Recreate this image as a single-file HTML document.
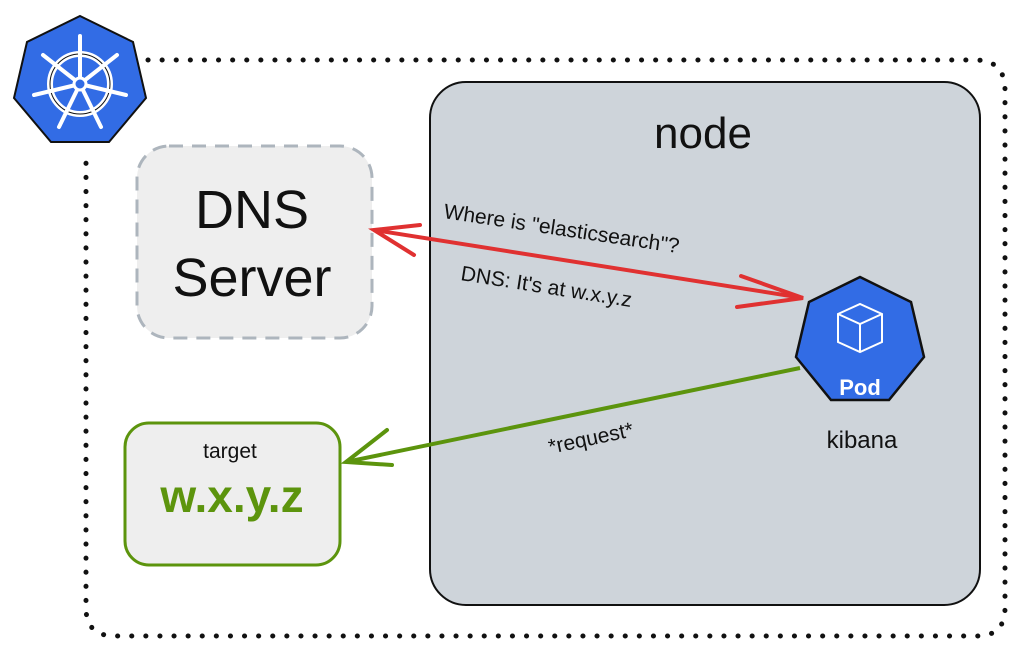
<!DOCTYPE html>
<html><head><meta charset="utf-8"><style>
html,body{margin:0;padding:0;background:#fff;}
svg{display:block}
text{font-family:"Liberation Sans",sans-serif;}
</style></head><body>
<svg width="1020" height="654" viewBox="0 0 1020 654" xmlns="http://www.w3.org/2000/svg">
<path d="M148,60 L975,60 Q1005,60 1005,90 L1005,608 Q1005,636 977,636 L115,636 Q86,636 86,608 L86,152" fill="none" stroke="#111" stroke-width="5" stroke-dasharray="0.1 14" stroke-linecap="round"/>
<g transform="translate(80,84)">
<polygon points="0,-68 53,-42 66,14 29,58 -29,58 -66,14 -53,-42" fill="#326ce5" stroke="#111" stroke-width="2"/>
<circle r="30" fill="none" stroke="#fff" stroke-width="6"/>
<circle r="30" fill="none" stroke="#111" stroke-width="1"/>
<g stroke="#fff" stroke-width="4" stroke-linecap="round">
<line x1="0" y1="0" x2="0" y2="-48"/><line x1="0" y1="0" x2="37" y2="-29"/><line x1="0" y1="0" x2="46" y2="11"/>
<line x1="0" y1="0" x2="21" y2="43"/><line x1="0" y1="0" x2="-21" y2="43"/><line x1="0" y1="0" x2="-46" y2="11"/><line x1="0" y1="0" x2="-37" y2="-29"/>
</g>
<circle r="6" fill="#326ce5" stroke="#fff" stroke-width="3"/>
</g>
<rect x="430" y="82" width="550" height="523" rx="36" fill="#ced4da" stroke="#111" stroke-width="2"/>
<text x="703" y="148" font-size="44" text-anchor="middle" fill="#111">node</text>
<rect x="137" y="146" width="235" height="192" rx="32" fill="#eeeeee" stroke="#adb5bd" stroke-width="3" stroke-dasharray="14 9"/>
<text x="252" y="228" font-size="54" text-anchor="middle" fill="#111">DNS</text>
<text x="252" y="296" font-size="54" text-anchor="middle" fill="#111">Server</text>
<line x1="374" y1="230" x2="803" y2="298" stroke="#e03131" stroke-width="4"/>
<polyline points="420,225 374,230 414,255" fill="none" stroke="#e03131" stroke-width="4" stroke-linecap="round"/>
<polyline points="741,276 803,298 737,307" fill="none" stroke="#e03131" stroke-width="4" stroke-linecap="round"/>
<text transform="translate(443,218) rotate(8.5)" font-size="21" fill="#111">Where is "elasticsearch"?</text>
<text transform="translate(460,280) rotate(9)" font-size="21" fill="#111">DNS: It's at w.x.y.z</text>
<g transform="translate(860,342)">
<polygon points="0,-65 51,-40 64,15 29,58 -29,58 -64,15 -51,-40" fill="#326ce5" stroke="#111" stroke-width="2.5"/>
<g stroke="#fff" stroke-width="2" fill="none">
<polygon points="-22,-28 0,-38 22,-28 22,0 0,10 -22,0"/>
<polyline points="-22,-28 0,-18 22,-28"/><line x1="0" y1="-18" x2="0" y2="10"/>
</g>
<text x="0" y="53" font-size="22" font-weight="bold" text-anchor="middle" fill="#fff">Pod</text>
</g>
<text x="862" y="448" font-size="24" text-anchor="middle" fill="#111" font-family="Liberation Mono,monospace">kibana</text>
<line x1="800" y1="368" x2="346" y2="462" stroke="#5c940d" stroke-width="4"/>
<polyline points="387,430 346,462 392,465" fill="none" stroke="#5c940d" stroke-width="4" stroke-linecap="round"/>
<text transform="translate(550,454) rotate(-12)" font-size="21" fill="#111">*request*</text>
<rect x="125" y="423" width="215" height="142" rx="24" fill="#eeeeee" stroke="#5c940d" stroke-width="3"/>
<text x="230" y="458" font-size="21" text-anchor="middle" fill="#111">target</text>
<text x="232" y="512" font-size="46" font-weight="bold" text-anchor="middle" fill="#5c940d">w.x.y.z</text>
</svg>
</body></html>
